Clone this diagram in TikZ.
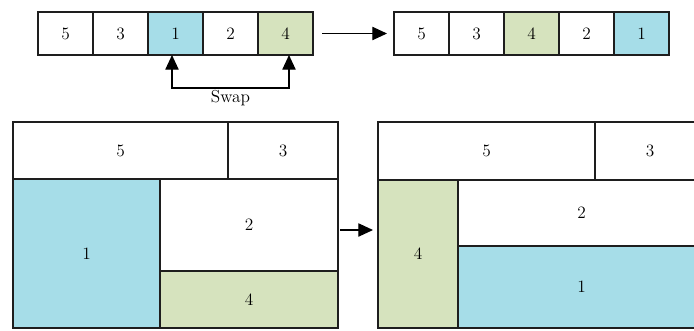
\documentclass[tikz,border=0pt]{standalone}
\usetikzlibrary{arrows.meta}
\definecolor{cblue}{RGB}{166,221,232}
\definecolor{cgreen}{RGB}{214,227,190}
\definecolor{cline}{RGB}{30,30,30}
\begin{document}
\begin{tikzpicture}[x=0.75pt,y=-0.75pt,
  lbl/.style={font=\fontsize{13}{15}\selectfont},
  box/.style 2 args={draw=cline, line width=0.85pt, minimum width=#1*0.75pt,
    minimum height=#2*0.75pt, inner sep=0pt, outer sep=0pt, lbl},
  blu/.style={fill=cblue},
  grn/.style={fill=cgreen},
  arr/.style={-{Triangle[length=11pt,width=10pt]}, line width=0.85pt, draw=black},
  swaparr/.style={{Triangle[length=11pt,width=10pt]}-{Triangle[length=11pt,width=10pt]}, line width=0.85pt, draw=black}]
\clip (0,0) rectangle (694,330);
\fill[white] (0,0) rectangle (694,330);
% top left array
\node[box={55}{43}] (a1) at (65.5,33.5) {5};
\node[box={55}{43}] (a2) at (120.5,33.5) {3};
\node[box={55}{43},blu] (a3) at (175.5,33.5) {1};
\node[box={55}{43}] (a4) at (230.5,33.5) {2};
\node[box={55}{43},grn] (a5) at (285.5,33.5) {4};
% top right array
\node[box={55}{43}] (b1) at (421.5,33.5) {5};
\node[box={55}{43}] (b2) at (476.5,33.5) {3};
\node[box={55}{43},grn] (b3) at (531.5,33.5) {4};
\node[box={55}{43}] (b4) at (586.5,33.5) {2};
\node[box={55}{43},blu] (b5) at (641.5,33.5) {1};
\draw[arr] ([xshift=9*0.75pt]a5.east) -- ([xshift=-7*0.75pt]b1.west);
\draw[swaparr] ([xshift=-3.5*0.75pt]a3.south) -- ++(0,33) -| ([xshift=3.5*0.75pt]a5.south)
  node[pos=0.25, below, lbl, inner sep=1.5pt] (sw) {Swap};
% bottom left layout
\node[box={215}{57}] (L5) at (120.5,150.5) {5};
\node[box={110}{57}] (L3) at (283,150.5) {3};
\node[box={147}{149},blu] (L1) at (86.5,253.5) {1};
\node[box={178}{92}] (L2) at (249,225) {2};
\node[box={178}{57},grn] (L4) at (249,299.5) {4};
% bottom right layout
\node[box={217}{58}] (R5) at (486.5,151) {5};
\node[box={110}{58}] (R3) at (650,151) {3};
\node[box={247}{66}] (R2) at (581.5,213) {2};
\node[box={247}{82},blu] (R1) at (581.5,287) {1};
\node[box={80}{148},grn] (R4) at (418,254) {4};
\coordinate (m1) at (340,230);
\coordinate (m2) at (373,230);
\draw[arr] (m1) -- (m2);
\end{tikzpicture}
\end{document}
